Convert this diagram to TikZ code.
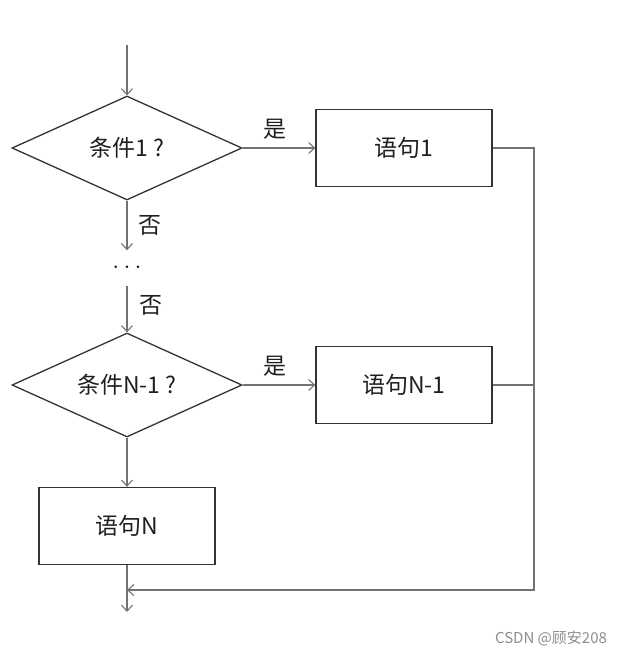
\documentclass[tikz,border=0pt]{standalone}
\usepackage{fontspec}
\setmainfont{Noto Sans CJK SC}
\usetikzlibrary{arrows.meta,positioning,shapes.geometric,calc}

\begin{document}
\begin{tikzpicture}[x=1pt, y=-1pt,
    every node/.style={font=\fontsize{23}{26}\selectfont, text=black!88},
    cond/.style={diamond, draw=black!80, line width=1.3pt, shape aspect=2.2,
        minimum width=230pt, minimum height=104pt, inner sep=0pt},
    stmt/.style={rectangle, draw=black!80, line width=1.3pt,
        minimum width=176pt, minimum height=77pt},
    flow/.style={draw=black!55, line width=1.1pt},
    >={Straight Barb[length=6pt, width=11pt]}]
    \useasboundingbox (0,0) rectangle (617,656);

    % decisions and statements
    \node[cond] (c1) at (127,148) {条件1 ?};
    \node[stmt] (s1) at (404,148) {语句1};
    \node[inner sep=0pt, minimum height=35pt, font=\fontsize{26}{28}\selectfont] (dots) at (127,268) {$\cdots$};
    \node[cond] (c2) at (127,385) {条件N-1 ?};
    \node[stmt] (s2) at (404,385) {语句N-1};
    \node[stmt] (sN) at (127,526) {语句N};

    % free ends
    \coordinate (in) at (127,45);
    \coordinate (out) at (127,612);
    \coordinate (join) at (127,590);
    \coordinate (rt) at (534,590);

    % connectors
    \draw[flow, ->] (in) -- (c1.north);
    \draw[flow, ->] (c1.east) -- (s1.west) node[midway, above=5pt, xshift=-4pt] {是};
    \draw[flow, ->] (c1.south) -- (dots.north) node[midway, right=8pt] {否};
    \draw[flow, ->] (dots.south) -- (c2.north) node[midway, right=9pt, yshift=4pt] {否};
    \draw[flow, ->] (c2.east) -- (s2.west) node[midway, above=5pt, xshift=-4pt] {是};
    \draw[flow, ->] (c2.south) -- (sN.north);
    \draw[flow, ->] (sN.south) -- (out);
    \draw[flow, ->] (s1.east) -| (rt) -- (join);
    \draw[flow] (s2.east) -- (s2.east -| rt);

    % watermark
    \node[font=\fontsize{15}{17}\selectfont, text=black!45] (mark) at (551,638) {CSDN @顾安208};
\end{tikzpicture}
\end{document}
